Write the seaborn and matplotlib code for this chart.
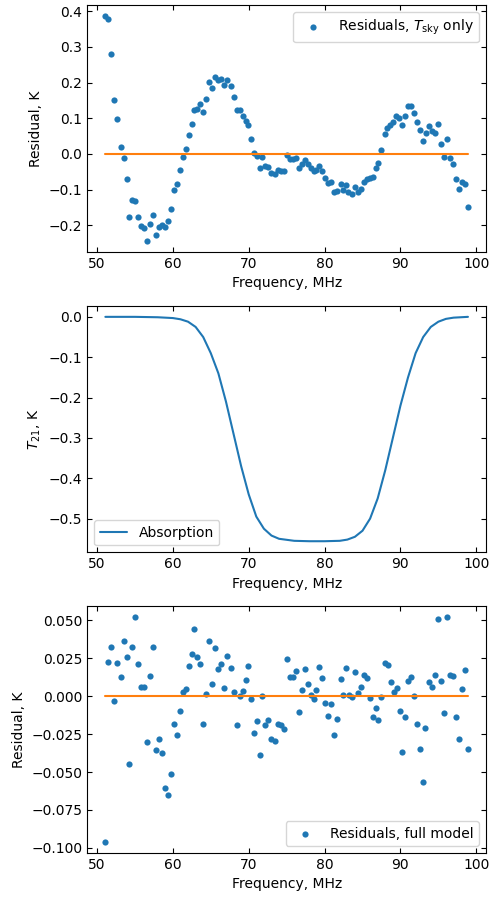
import numpy as np
import pandas as pd
import matplotlib
matplotlib.use("Agg")
import matplotlib.pyplot as plt
import seaborn as sns

# residuals after fitting only the sky foreground
freq_sky = [51.1, 51.5, 51.9, 52.3, 52.7, 53.1, 53.5, 53.9, 54.25, 54.6, 55.0, 55.4, 55.8, 56.2, 56.6,
            57.0, 57.4, 57.8, 58.2, 58.6, 59.0, 59.4, 59.7, 60.1, 60.5, 60.9, 61.3, 61.7, 62.1, 62.5,
            62.85, 63.2, 63.6, 64.0, 64.4, 64.8, 65.2, 65.6, 66.0, 66.4, 66.8, 67.2, 67.6, 68.0, 68.4,
            68.8, 69.2, 69.6, 69.9, 70.3, 70.7, 71.05, 71.45, 71.8, 72.2, 72.6, 73.0, 73.4, 73.8, 74.2,
            74.6, 75.0, 75.4, 75.8, 76.2, 76.6, 77.0, 77.4, 77.8, 78.2, 78.6, 78.9, 79.3, 79.7, 80.1,
            80.5, 80.9, 81.3, 81.7, 82.1, 82.4, 82.8, 83.1, 83.6, 84.0, 84.4, 84.8, 85.2, 85.6, 86.0,
            86.4, 86.75, 87.1, 87.5, 87.9, 88.2, 88.6, 89.0, 89.4, 89.8, 90.2, 90.6, 91.0, 91.4, 91.8,
            92.2, 92.6, 93.0, 93.4, 93.8, 94.2, 94.55, 94.9, 95.3, 95.7, 96.1, 96.5, 96.9, 97.3, 97.7,
            98.1, 98.5, 98.9]
resid_sky = [0.386, 0.379, 0.280, 0.152, 0.097, 0.020, -0.012, -0.070, -0.178, -0.130, -0.131, -0.178,
             -0.203, -0.209, -0.243, -0.196, -0.170, -0.226, -0.205, -0.200, -0.205, -0.189, -0.155,
             -0.101, -0.084, -0.046, -0.010, 0.015, 0.054, 0.084, 0.123, 0.125, 0.140, 0.118, 0.155,
             0.203, 0.185, 0.217, 0.208, 0.211, 0.194, 0.208, 0.190, 0.161, 0.123, 0.124, 0.106, 0.093,
             0.082, 0.042, 0.003, -0.005, -0.039, -0.010, -0.035, -0.037, -0.053, -0.055, -0.046,
             -0.048, -0.049, -0.002, -0.014, -0.014, -0.012, -0.040, -0.027, -0.016, -0.027, -0.040,
             -0.048, -0.046, -0.035, -0.047, -0.068, -0.082, -0.080, -0.108, -0.104, -0.083, -0.100,
             -0.087, -0.108, -0.112, -0.094, -0.106, -0.097, -0.079, -0.070, -0.067, -0.064, -0.039,
             -0.025, 0.011, 0.055, 0.073, 0.081, 0.090, 0.105, 0.100, 0.080, 0.107, 0.133, 0.133, 0.116,
             0.090, 0.067, 0.035, 0.060, 0.079, 0.064, 0.059, 0.083, 0.028, -0.008, 0.041, -0.012,
             -0.027, -0.069, -0.099, -0.079, -0.083, -0.150]

# 21-cm absorption profile
freq_t21 = [51.1, 55.0, 58.0, 60.0, 61.0, 62.0, 63.0, 64.0, 65.0, 66.0, 67.0, 68.0, 69.0, 70.0, 71.0,
            72.0, 73.0, 74.0, 76.0, 78.0, 80.0, 82.0, 83.0, 84.0, 85.0, 86.0, 87.0, 88.0, 89.0, 90.0,
            91.0, 92.0, 93.0, 94.0, 95.0, 96.0, 97.0, 98.9]
t21 = [0.0, 0.0, -0.001, -0.003, -0.006, -0.012, -0.025, -0.05, -0.09, -0.14, -0.21, -0.29, -0.37,
       -0.44, -0.495, -0.525, -0.542, -0.55, -0.555, -0.556, -0.556, -0.555, -0.552, -0.545, -0.53,
       -0.50, -0.45, -0.38, -0.30, -0.22, -0.15, -0.09, -0.05, -0.025, -0.012, -0.005, -0.002, 0.0]

# residuals after fitting sky + absorption
freq_full = [51.1, 51.5, 51.9, 52.3, 52.7, 53.1, 53.5, 53.9, 54.25, 54.6, 55.0, 55.4, 55.8, 56.2, 56.6,
             57.0, 57.4, 57.8, 58.2, 58.6, 59.0, 59.4, 59.7, 60.1, 60.5, 60.9, 61.3, 61.7, 62.1, 62.5,
             62.85, 63.2, 63.6, 64.0, 64.4, 64.8, 65.2, 65.6, 66.0, 66.4, 66.8, 67.2, 67.6, 68.0, 68.4,
             68.8, 69.2, 69.6, 69.9, 70.3, 70.7, 71.05, 71.45, 71.8, 72.2, 72.6, 73.0, 73.4, 73.8, 74.2,
             74.6, 75.0, 75.4, 75.8, 76.2, 76.6, 77.0, 77.4, 77.8, 78.2, 78.6, 78.9, 79.3, 79.7, 80.1,
             80.5, 80.9, 81.3, 81.7, 82.1, 82.4, 82.8, 83.2, 83.6, 84.0, 84.4, 84.8, 85.2, 85.6, 86.0,
             86.4, 86.8, 87.1, 87.5, 87.9, 88.3, 88.7, 89.1, 89.5, 89.9, 90.2, 90.6, 91.05, 91.4, 91.8,
             92.2, 92.55, 92.95, 93.3, 93.7, 94.1, 94.5, 94.9, 95.3, 95.7, 96.1, 96.5, 96.9, 97.3, 97.7,
             98.1, 98.5, 98.9]
resid_full = [-0.096, 0.0228, 0.0327, -0.0028, 0.0219, 0.0130, 0.0368, 0.0257, -0.0449, 0.0327, 0.052,
              0.0213, 0.0064, 0.0064, -0.0301, 0.0136, 0.0322, -0.0353, -0.0285, -0.0375, -0.0607,
              -0.0651, -0.0513, -0.0184, -0.0254, -0.0099, 0.0031, 0.0048, 0.0199, 0.0276, 0.0443,
              0.0259, 0.0213, -0.0182, 0.0015, 0.0362, 0.0079, 0.0318, 0.0180, 0.0211, 0.0057, 0.0265,
              0.0184, 0.0028, -0.0191, 0.0005, 0.0035, 0.0105, 0.0197, -0.0018, -0.0241, -0.0164,
              -0.0386, 0.000, -0.0191, -0.0156, -0.0285, -0.0294, -0.0182, -0.0191, -0.0217, 0.0243,
              0.0125, 0.013, 0.0164, -0.0103, 0.0042, 0.0178, 0.0083, 0.0011, -0.002, 0.0044, 0.0191,
              0.0121, -0.0046, -0.0129, -0.0050, -0.0257, -0.0151, 0.0114, 0.0009, 0.0186, 0.0011,
              -0.0007, 0.0162, 0.0022, 0.0061, 0.0143, 0.0123, -0.0011, -0.0138, -0.0077, -0.0156,
              -0.0007, 0.0217, 0.0204, 0.0097, 0.0026, 0.0057, -0.0097, -0.0366, -0.0138, 0.0101,
              0.0125, 0.0002, -0.0186, -0.0349, -0.0564, -0.0211, 0.0097, 0.0061, 0.0138, 0.0511,
              0.0099, -0.0110, 0.052, 0.0138, 0.0132, -0.0136, -0.0283, 0.0046, 0.0173, -0.0349]

sns.set_style("ticks")
plt.rcParams.update({
    "font.family": ["DejaVu Sans"],
    "font.size": 10,
    "axes.edgecolor": "black",
    "text.color": "black",
    "axes.labelcolor": "black",
    "xtick.color": "black",
    "ytick.color": "black",
    "xtick.direction": "in",
    "ytick.direction": "in",
    "xtick.top": True,
    "ytick.right": True,
    "axes.labelsize": 10,
    "xtick.labelsize": 10,
    "ytick.labelsize": 10,
    "legend.fontsize": 10,
})

blue = "#1f77b4"
orange = "#ff7f0e"

fig, axes = plt.subplots(3, 1, figsize=(4.9, 8.97), dpi=100)
fig.subplots_adjust(left=0.178, right=0.992, top=0.9944, bottom=0.049, hspace=0.218)

# top: sky-only residuals
ax = axes[0]
df = pd.DataFrame({"freq": freq_sky, "resid": resid_sky})
sns.scatterplot(data=df, x="freq", y="resid", ax=ax, color=blue, s=20, linewidth=0,
                label=r"Residuals, $T_\mathrm{sky}$ only")
sns.lineplot(x=[freq_sky[0], freq_sky[-1]], y=[0, 0], ax=ax, color=orange, linewidth=1.5)
ax.legend(loc="upper right", fancybox=True, framealpha=0.8, handletextpad=0.8)
ax.set_xlabel("Frequency, MHz")
ax.set_ylabel("Residual, K")

# middle: absorption profile
ax = axes[1]
df = pd.DataFrame({"freq": freq_t21, "t21": t21})
sns.lineplot(data=df, x="freq", y="t21", ax=ax, color=blue, linewidth=1.5, label="Absorption")
ax.legend(loc="lower left", fancybox=True, framealpha=0.8)
ax.set_xlabel("Frequency, MHz")
ax.set_ylabel(r"$T_{21}$, K")

# bottom: full-model residuals
ax = axes[2]
df = pd.DataFrame({"freq": freq_full, "resid": resid_full})
sns.scatterplot(data=df, x="freq", y="resid", ax=ax, color=blue, s=20, linewidth=0,
                label="Residuals, full model")
sns.lineplot(x=[freq_full[0], freq_full[-1]], y=[0, 0], ax=ax, color=orange, linewidth=1.5)
ax.legend(loc="lower right", fancybox=True, framealpha=0.8, handletextpad=0.8)
ax.set_xlabel("Frequency, MHz")
ax.set_ylabel("Residual, K")

for ax in axes:
    ax.set_xticks([50, 60, 70, 80, 90, 100])
    ax.margins(x=0.05, y=0.05)

fig.savefig("out.png", dpi=100)
